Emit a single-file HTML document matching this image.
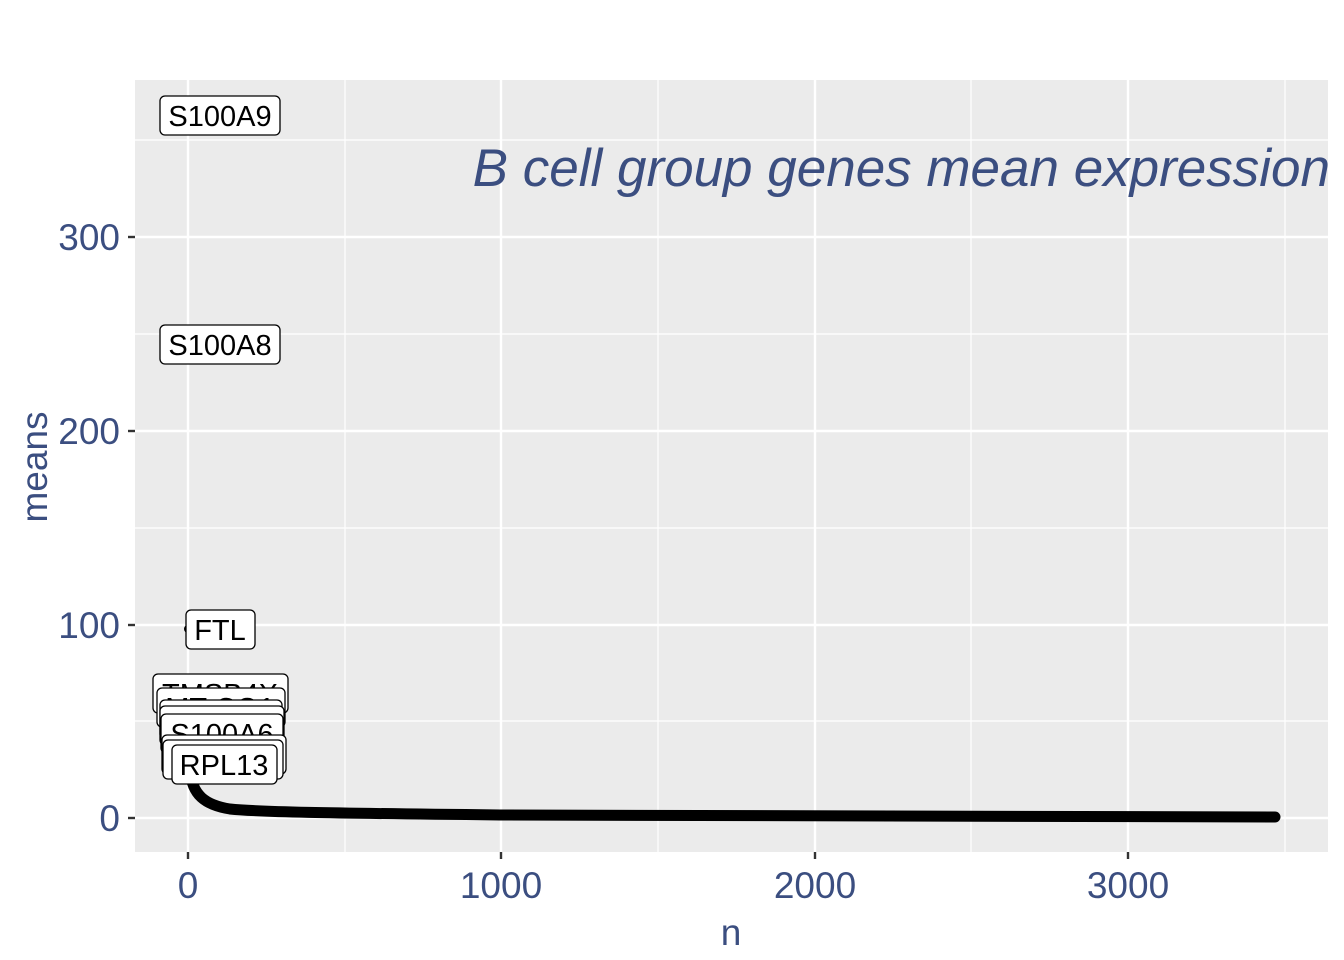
<!DOCTYPE html>
<html><head><meta charset="utf-8"><style>body{margin:0;background:#fff}svg{display:block}</style></head><body>
<svg width="1344" height="960" xmlns="http://www.w3.org/2000/svg" font-family="Liberation Sans, sans-serif">
<rect x="135" y="80" width="1193" height="772" fill="#ebebeb"/>
<g stroke="#fff" stroke-width="1.2">
<line x1="135" x2="1328" y1="721" y2="721"/><line x1="135" x2="1328" y1="528" y2="528"/><line x1="135" x2="1328" y1="334" y2="334"/><line x1="135" x2="1328" y1="140" y2="140"/>
<line y1="80" y2="852" x1="345" x2="345"/><line y1="80" y2="852" x1="658" x2="658"/><line y1="80" y2="852" x1="971" x2="971"/><line y1="80" y2="852" x1="1285" x2="1285"/>
</g>
<g stroke="#fff" stroke-width="2.4">
<line x1="135" x2="1328" y1="818" y2="818"/><line x1="135" x2="1328" y1="625" y2="625"/><line x1="135" x2="1328" y1="431" y2="431"/><line x1="135" x2="1328" y1="237" y2="237"/>
<line y1="80" y2="852" x1="188" x2="188"/><line y1="80" y2="852" x1="501" x2="501"/><line y1="80" y2="852" x1="815" x2="815"/><line y1="80" y2="852" x1="1128" x2="1128"/>
</g>
<g stroke="#333" stroke-width="2.4">
<line x1="128" x2="135" y1="818" y2="818"/><line x1="128" x2="135" y1="625" y2="625"/><line x1="128" x2="135" y1="431" y2="431"/><line x1="128" x2="135" y1="237" y2="237"/>
<line y1="852" y2="859" x1="188" x2="188"/><line y1="852" y2="859" x1="501" x2="501"/><line y1="852" y2="859" x1="815" x2="815"/><line y1="852" y2="859" x1="1128" x2="1128"/>
</g>
<g fill="#3b4e80" font-size="37">
<text x="120" y="831" text-anchor="end">0</text><text x="120" y="638" text-anchor="end">100</text><text x="120" y="444" text-anchor="end">200</text><text x="120" y="250" text-anchor="end">300</text>
<text x="188" y="898" text-anchor="middle">0</text><text x="501" y="898" text-anchor="middle">1000</text><text x="815" y="898" text-anchor="middle">2000</text><text x="1128" y="898" text-anchor="middle">3000</text>
<text x="731" y="945" text-anchor="middle">n</text>
<text transform="translate(47,467) rotate(-90)" text-anchor="middle">means</text>
<text x="1330" y="186" text-anchor="end" font-size="53" font-style="italic">B cell group genes mean expression</text>
</g>
<path d="M190,770 C192,795 205,805 230,809 C260,812 320,813 500,815 C700,817 900,817 1275,817" stroke="#000" stroke-width="11" fill="none" stroke-linecap="round"/>
<circle cx="188" cy="629" r="4"/>
<g font-size="29" stroke="#000" stroke-width="1.3">
<rect x="160" y="96" width="120" height="39" rx="5" fill="#fff"/>
<rect x="160" y="325" width="120" height="39" rx="5" fill="#fff"/>
<rect x="186" y="610" width="69" height="39" rx="5" fill="#fff"/>
<rect x="153" y="674" width="135" height="39" rx="5" fill="#fff"/>
<text x="220" y="704" text-anchor="middle" stroke="none">TMSB4X</text>
<rect x="157" y="688" width="128" height="39" rx="5" fill="#fff"/>
<text x="220" y="718" text-anchor="middle" stroke="none">MT-CO1</text>
<rect x="160" y="700" width="122" height="39" rx="5" fill="#fff"/>
<rect x="160" y="706" width="124" height="39" rx="5" fill="#fff"/>
<rect x="161" y="714" width="122" height="39" rx="5" fill="#fff"/>
<text x="222" y="744" text-anchor="middle" stroke="none">S100A6</text>
<rect x="162" y="735" width="124" height="39" rx="5" fill="#fff"/>
<rect x="163" y="740" width="120" height="39" rx="5" fill="#fff"/>
<rect x="172" y="745" width="105" height="39" rx="5" fill="#fff"/>
</g>
<g font-size="29" fill="#000">
<text x="220" y="126" text-anchor="middle">S100A9</text>
<text x="220" y="355" text-anchor="middle">S100A8</text>
<text x="220" y="640" text-anchor="middle">FTL</text>
<text x="224" y="775" text-anchor="middle">RPL13</text>
</g>
</svg>
</body></html>
